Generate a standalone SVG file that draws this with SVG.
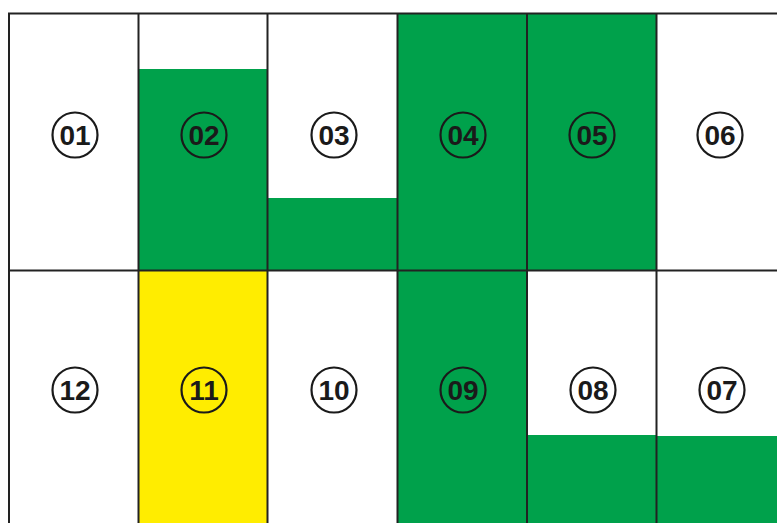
<svg xmlns="http://www.w3.org/2000/svg" width="777" height="523" viewBox="0 0 777 523">
<style>
.g{fill:#00a14b}
.y{fill:#ffed00}
.c{fill:none;stroke:#1a1a1a;stroke-width:2.2}
.t{font-family:"Liberation Sans",Arial,sans-serif;font-weight:bold;font-size:28px;fill:#1a1a1a;text-anchor:middle}
.line{stroke:#222;stroke-width:2;fill:none}
</style>
<rect width="777" height="523" fill="#fff"/>
<g id="cell-02"><rect class="g" x="138" y="69" width="129" height="201"/><circle class="c" cx="204" cy="135" r="22.5"/><text class="t" x="204" y="145">02</text></g>
<g id="cell-03"><rect class="g" x="267" y="198" width="130" height="72"/><circle class="c" cx="334" cy="135" r="22.5"/><text class="t" x="334" y="145">03</text></g>
<g id="cell-04"><rect class="g" x="397" y="13" width="130" height="257"/><circle class="c" cx="463" cy="135" r="22.5"/><text class="t" x="463" y="145">04</text></g>
<g id="cell-05"><rect class="g" x="527" y="13" width="129" height="257"/><circle class="c" cx="592" cy="135" r="22.5"/><text class="t" x="592" y="145">05</text></g>
<g id="cell-01"><circle class="c" cx="75" cy="135" r="22.5"/><text class="t" x="75" y="145">01</text></g>
<g id="cell-06"><circle class="c" cx="720" cy="135" r="22.5"/><text class="t" x="720" y="145">06</text></g>
<g id="cell-11"><rect class="y" x="138" y="270" width="129" height="253"/><circle class="c" cx="204" cy="390" r="22.5"/><text class="t" x="204" y="400">11</text></g>
<g id="cell-09"><rect class="g" x="397" y="270" width="130" height="253"/><circle class="c" cx="463" cy="390" r="22.5"/><text class="t" x="463" y="400">09</text></g>
<g id="cell-08"><rect class="g" x="527" y="435" width="129" height="88"/><circle class="c" cx="593" cy="390" r="22.5"/><text class="t" x="593" y="400">08</text></g>
<g id="cell-07"><rect class="g" x="656" y="436" width="121" height="87"/><circle class="c" cx="722" cy="390" r="22.5"/><text class="t" x="722" y="400">07</text></g>
<g id="cell-12"><circle class="c" cx="75" cy="390" r="22.5"/><text class="t" x="75" y="400">12</text></g>
<g id="cell-10"><circle class="c" cx="334" cy="390" r="22.5"/><text class="t" x="334" y="400">10</text></g>
<g id="grid">
<path class="line" d="M9 523V13.5H777M9 270.5H777M138.5 13.5V523M267.5 13.5V523M397.5 13.5V523M527 13.5V523M656.5 13.5V523"/>
</g>
</svg>
